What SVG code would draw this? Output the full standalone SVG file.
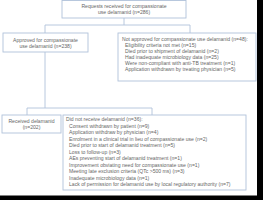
<svg xmlns="http://www.w3.org/2000/svg" width="263" height="200" viewBox="0 0 263 200">
<style>
.box{fill:#fff;stroke:#b0c2da;stroke-width:0.9}
.ln{fill:none;stroke:#b0c2da;stroke-width:0.9}
text{font-family:"Liberation Sans",Arial,sans-serif;font-size:5.1px;fill:#666}
.c{text-anchor:middle}
</style>
<rect width="263" height="200" fill="#fff"/>
<g id="connectors">
<path class="ln" d="M124,18 V25 M45,25 H190 M45,25 V33 M190,25 V33"/>
<path class="ln" d="M45,52 V108 M27,108 H152 M27,108 V115 M152,108 V115"/>
</g>
<g id="requests">
<rect class="box" x="62" y="0.5" width="124" height="17.5"/>
<text class="c" x="124" y="7.5">Requests received for compassionate</text>
<text class="c" x="124" y="13.5">use delamanid (n=286)</text>
</g>
<g id="approved">
<rect class="box" x="3" y="33" width="85" height="19"/>
<text class="c" x="45.5" y="41.5">Approved for compassionate</text>
<text class="c" x="45.5" y="47.5">use delamanid (n=238)</text>
</g>
<g id="notapproved">
<rect class="box" x="118" y="33" width="138" height="48"/>
<text x="122" y="41">Not approved for compassionate use delamanid (n=48):</text>
<text x="125" y="47">Eligibility criteria not met (n=15)</text>
<text x="125" y="53">Died prior to shipment of delamanid (n=2)</text>
<text x="125" y="59">Had inadequate microbiology data (n=25)</text>
<text x="125" y="65">Were non-compliant with anti-TB treatment (n=1)</text>
<text x="125" y="71">Application withdrawn by treating physician (n=5)</text>
</g>
<g id="received">
<rect class="box" x="2" y="115" width="59" height="18"/>
<text class="c" x="31.5" y="123">Received delamanid</text>
<text class="c" x="31.5" y="129">(n=202)</text>
</g>
<g id="notreceived">
<rect class="box" x="63" y="115" width="183" height="75"/>
<text x="66" y="121">Did not receive delamanid (n=36):</text>
<text x="69" y="127.5">Consent withdrawn by patient (n=9)</text>
<text x="69" y="134">Application withdraw by physician (n=4)</text>
<text x="69" y="140.5">Enrolment in a clinical trial in lieu of compassionate use (n=2)</text>
<text x="69" y="147">Died prior to start of delamanid treatment (n=5)</text>
<text x="69" y="153.5">Loss to follow-up (n=3)</text>
<text x="69" y="160">AEs preventing start of delamanid treatment (n=1)</text>
<text x="69" y="166.5">Improvement obviating need for compassionate use (n=1)</text>
<text x="69" y="173">Meeting late exclusion criteria (QTc &gt;500 ms) (n=3)</text>
<text x="69" y="179.5">Inadequate microbiology data (n=1)</text>
<text x="69" y="186">Lack of permission for delamanid use by local regulatory authority (n=7)</text>
</g>
<rect x="257" y="0" width="6" height="200" fill="#000"/>
<rect x="0" y="195.5" width="263" height="4.5" fill="#000"/>
</svg>
